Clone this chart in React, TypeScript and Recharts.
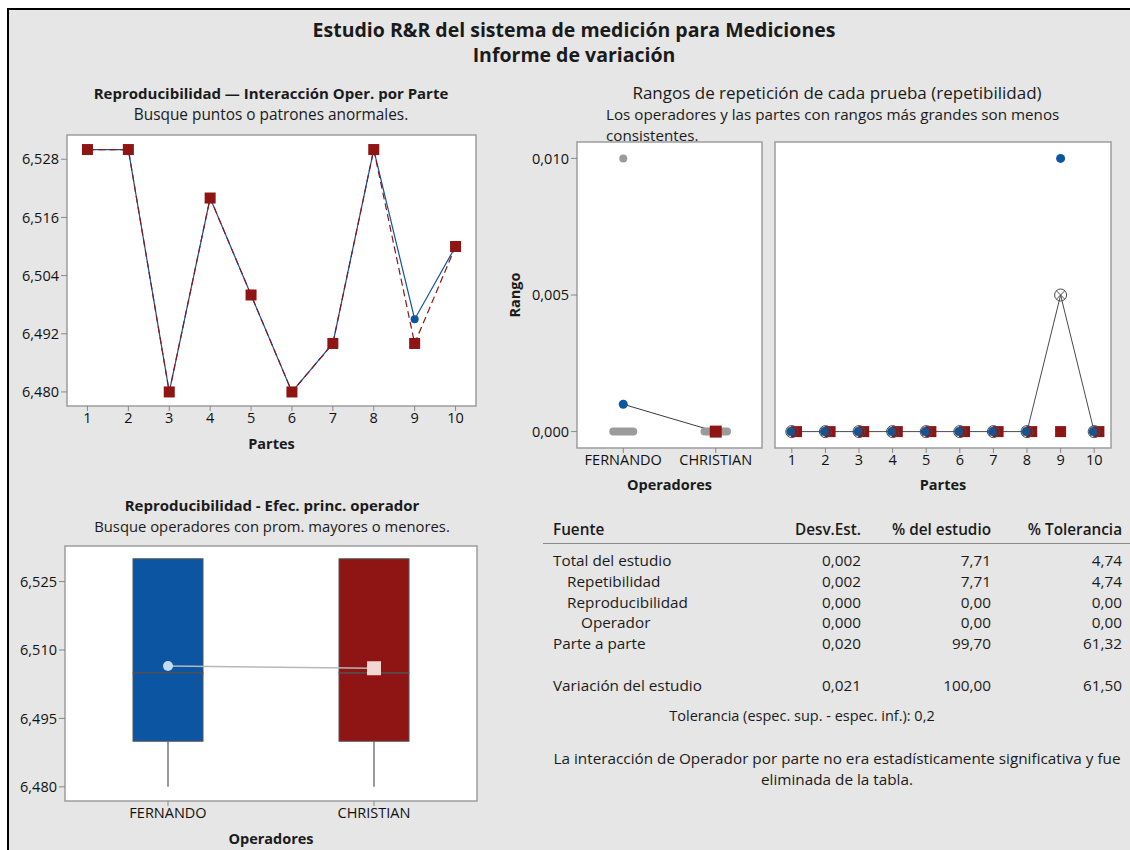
import React from "react";
import {
  Bar,
  CartesianGrid,
  ComposedChart,
  Line,
  ReferenceArea,
  Scatter,
  XAxis,
  YAxis,
} from "recharts";

// Minitab-style "Gage R&R" variation report, rebuilt with Recharts panels
// plus a plain HTML table for the variance components.

const FONT = '"Open Sans", "Noto Sans", sans-serif';
const BLUE = "#0b55a3";
const RED = "#8f1414";
const BG = "#e6e6e6";
const FRAME = "#9d9d9d";
const INK = "#1a1a1a";

// --- Interaction plot (operator average per part)
const parts = [1, 2, 3, 4, 5, 6, 7, 8, 9, 10];
const fernandoAvg = [6.53, 6.53, 6.48, 6.52, 6.5, 6.48, 6.49, 6.53, 6.495, 6.51];
const christianAvg = [6.53, 6.53, 6.48, 6.52, 6.5, 6.48, 6.49, 6.53, 6.49, 6.51];
const interactionTicks = [6.48, 6.492, 6.504, 6.516, 6.528];
const interactionDomain = [6.4771, 6.533];

// --- Repeatability ranges
const operators = ["FERNANDO", "CHRISTIAN"];
const fernandoRanges = [0, 0, 0, 0, 0, 0, 0, 0, 0.01, 0];
const christianRanges = [0, 0, 0, 0, 0, 0, 0, 0, 0, 0];
const operatorMeanRange = [0.001, 0];
const rangeTicks = [0, 0.005, 0.01];
const rangeDomain = [-0.0006, 0.0106];

// --- Operator main effect (box plot)
const boxMin = [6.48, 6.48];
const boxQ1 = [6.49, 6.49];
const boxMedian = [6.505, 6.505];
const boxQ3 = [6.53, 6.53];
const boxMax = [6.53, 6.53];
const boxMean = [6.5065, 6.506];
const boxTicks = [6.48, 6.495, 6.51, 6.525];
const boxDomain = [6.4769, 6.5328];
const boxFills = [BLUE, RED];
const meanFills = ["#c3dcf1", "#f3d8d2"];

// --- Variance components table
const sources = [
  "Total del estudio",
  "Repetibilidad",
  "Reproducibilidad",
  "Operador",
  "Parte a parte",
  "Variación del estudio",
];
const sourceIndent = [0, 1, 1, 2, 0, 0];
const stdDev = [0.002, 0.002, 0.0, 0.0, 0.02, 0.021];
const pctStudy = [7.71, 7.71, 0.0, 0.0, 99.7, 100.0];
const pctTolerance = [4.74, 4.74, 0.0, 0.0, 61.32, 61.5];

const fmt = (v: number, d: number) => v.toFixed(d).replace(".", ",");

// spread points sharing the same value side by side (Minitab's dodge)
function dodge(values: number[], step: number) {
  return values.map((v, i) => {
    const same = values.filter((w) => w === v).length;
    const k = values.slice(0, i).filter((w) => w === v).length;
    return (k - (same - 1) / 2) * step;
  });
}

const tickStyle = { fontSize: 14.5, fill: "#111" };
const axisTitle = { fontSize: 14.5, fill: INK, fontWeight: 700 };

function SquareDot({ cx, cy, size, fill }: any) {
  if (cx == null || cy == null) return null;
  return <rect x={cx - size / 2} y={cy - size / 2} width={size} height={size} fill={fill} />;
}

function CrossedCircle({ cx, cy }: any) {
  if (cx == null || cy == null) return null;
  const r = 6;
  const d = r * 0.7;
  return (
    <g stroke="#4a4a4a" strokeWidth={1} fill="none">
      <circle cx={cx} cy={cy} r={r} />
      <line x1={cx - d} y1={cy - d} x2={cx + d} y2={cy + d} />
      <line x1={cx - d} y1={cy + d} x2={cx + d} y2={cy - d} />
    </g>
  );
}

function InteractionChart() {
  const data = parts.map((p, i) => ({
    part: p,
    fernando: fernandoAvg[i],
    christian: christianAvg[i],
  }));
  return (
    <ComposedChart width={490} height={340} data={data} margin={{ top: 15, right: 14, bottom: 0, left: 0 }}>
      <CartesianGrid horizontal={false} vertical={false} fill="#fff" />
      <XAxis
        dataKey="part"
        type="number"
        domain={[0.5, 10.5]}
        ticks={parts}
        height={54}
        tick={tickStyle}
        tickLine={{ stroke: "#888" }}
        axisLine={false}
        tickSize={5}
        label={{ value: "Partes", position: "insideBottom", offset: 11, style: axisTitle }}
      />
      <YAxis
        type="number"
        domain={interactionDomain}
        allowDataOverflow
        ticks={interactionTicks}
        width={67}
        tick={tickStyle}
        tickLine={{ stroke: "#888" }}
        axisLine={false}
        tickFormatter={(v) => fmt(v, 3)}
      />
      <ReferenceArea
        x1={0.5}
        x2={10.5}
        y1={interactionDomain[0]}
        y2={interactionDomain[1]}
        fill="none"
        stroke={FRAME}
        strokeWidth={1.5}
        ifOverflow="visible"
      />
      <Line
        dataKey="fernando"
        stroke={BLUE}
        strokeWidth={1.2}
        isAnimationActive={false}
        dot={(p: any) => <circle key={p.index} cx={p.cx} cy={p.cy} r={4} fill={BLUE} />}
      />
      <Line
        dataKey="christian"
        stroke={RED}
        strokeWidth={1.2}
        strokeDasharray="7 4"
        isAnimationActive={false}
        dot={(p: any) => <SquareDot key={p.index} cx={p.cx} cy={p.cy} size={11} fill={RED} />}
      />
    </ComposedChart>
  );
}

function OperatorRangeChart() {
  const grayPoints = [fernandoRanges, christianRanges].flatMap((ranges, oi) => {
    const offsets = dodge(ranges, 0.027);
    return ranges.map((v, i) => ({ x: oi + 1 + offsets[i], y: v }));
  });
  const meanLine = operatorMeanRange.map((v, i) => ({ x: i + 1, y: v }));
  return (
    <ComposedChart width={290} height={370} margin={{ top: 12, right: 8, bottom: 0, left: 0 }}>
      <CartesianGrid horizontal={false} vertical={false} fill="#fff" />
      <XAxis
        dataKey="x"
        type="number"
        domain={[0.5, 2.5]}
        ticks={[1, 2]}
        tickFormatter={(v) => operators[v - 1]}
        height={52}
        tick={tickStyle}
        tickLine={{ stroke: "#888" }}
        axisLine={false}
        tickSize={5}
        label={{ value: "Operadores", position: "insideBottom", offset: 10, style: axisTitle }}
      />
      <YAxis
        type="number"
        domain={rangeDomain}
        allowDataOverflow
        ticks={rangeTicks}
        width={97}
        tick={tickStyle}
        tickLine={{ stroke: "#888" }}
        axisLine={false}
        tickFormatter={(v) => fmt(v, 3)}
        label={{
          value: "Rango",
          angle: -90,
          position: "insideLeft",
          offset: 35,
          style: { ...axisTitle, textAnchor: "middle" },
        }}
      />
      <ReferenceArea
        x1={0.5}
        x2={2.5}
        y1={rangeDomain[0]}
        y2={rangeDomain[1]}
        fill="none"
        stroke={FRAME}
        strokeWidth={1.5}
        ifOverflow="visible"
      />
      <Scatter
        data={grayPoints}
        dataKey="y"
        isAnimationActive={false}
        shape={(p: any) => <circle cx={p.cx} cy={p.cy} r={4} fill="#9b9b9b" />}
      />
      <Line
        data={meanLine}
        dataKey="y"
        stroke="#3a3a3a"
        strokeWidth={1}
        isAnimationActive={false}
        dot={(p: any) =>
          p.index === 0 ? (
            <circle key={p.index} cx={p.cx} cy={p.cy} r={4.5} fill={BLUE} />
          ) : (
            <SquareDot key={p.index} cx={p.cx} cy={p.cy} size={12} fill={RED} />
          )
        }
      />
    </ComposedChart>
  );
}

function PartRangeChart() {
  const blueDots = parts.map((p, i) => ({
    x: fernandoRanges[i] === christianRanges[i] ? p - 0.03 : p,
    y: fernandoRanges[i],
  }));
  const redDots = parts.map((p, i) => ({
    x: fernandoRanges[i] === christianRanges[i] ? p + 0.14 : p,
    y: christianRanges[i],
  }));
  const meanLine = parts.map((p, i) => ({ x: p, y: (fernandoRanges[i] + christianRanges[i]) / 2 }));
  return (
    <ComposedChart width={360} height={370} margin={{ top: 12, right: 19, bottom: 0, left: 5 }}>
      <CartesianGrid horizontal={false} vertical={false} fill="#fff" />
      <XAxis
        dataKey="x"
        type="number"
        domain={[0.5, 10.5]}
        ticks={parts}
        height={52}
        tick={tickStyle}
        tickLine={{ stroke: "#888" }}
        axisLine={false}
        tickSize={5}
        label={{ value: "Partes", position: "insideBottom", offset: 10, style: axisTitle }}
      />
      <YAxis type="number" domain={rangeDomain} allowDataOverflow hide />
      <ReferenceArea
        x1={0.5}
        x2={10.5}
        y1={rangeDomain[0]}
        y2={rangeDomain[1]}
        fill="none"
        stroke={FRAME}
        strokeWidth={1.5}
        ifOverflow="visible"
      />
      <Scatter
        data={redDots}
        dataKey="y"
        isAnimationActive={false}
        shape={(p: any) => <SquareDot cx={p.cx} cy={p.cy} size={11} fill={RED} />}
      />
      <Scatter
        data={blueDots}
        dataKey="y"
        isAnimationActive={false}
        shape={(p: any) => <circle cx={p.cx} cy={p.cy} r={4.5} fill={BLUE} />}
      />
      <Line
        data={meanLine}
        dataKey="y"
        stroke="#4a4a4a"
        strokeWidth={1}
        isAnimationActive={false}
        dot={(p: any) => <CrossedCircle key={p.index} cx={p.cx} cy={p.cy} />}
      />
    </ComposedChart>
  );
}

function OperatorBoxChart() {
  const data = operators.map((name, i) => ({
    name,
    base: boxMin[i],
    lowWhisker: boxQ1[i] - boxMin[i],
    lowBox: boxMedian[i] - boxQ1[i],
    highBox: boxQ3[i] - boxMedian[i],
    highWhisker: boxMax[i] - boxQ3[i],
    mean: boxMean[i],
  }));
  const whisker = (p: any) => {
    if (!p.height) return <g />;
    const cx = p.x + p.width / 2;
    return <line x1={cx} x2={cx} y1={p.y} y2={p.y + p.height} stroke="#7a7a7a" strokeWidth={1.5} />;
  };
  return (
    <ComposedChart width={490} height={320} data={data} margin={{ top: 16, right: 13, bottom: 0, left: 0 }}>
      <CartesianGrid horizontal={false} vertical={false} fill="#fff" />
      <XAxis
        dataKey="name"
        height={49}
        tick={tickStyle}
        tickLine={{ stroke: "#888" }}
        axisLine={false}
        tickSize={5}
        label={{ value: "Operadores", position: "insideBottom", offset: 6, style: axisTitle }}
      />
      <YAxis
        type="number"
        domain={boxDomain}
        allowDataOverflow
        ticks={boxTicks}
        width={65}
        tick={tickStyle}
        tickLine={{ stroke: "#888" }}
        axisLine={false}
        tickFormatter={(v) => fmt(v, 3)}
      />
      <ReferenceArea
        y1={boxDomain[0]}
        y2={boxDomain[1]}
        fill="none"
        stroke={FRAME}
        strokeWidth={1.5}
        ifOverflow="visible"
      />
      <Bar dataKey="base" stackId="box" barSize={70} fill="transparent" isAnimationActive={false} shape={() => <g />} />
      <Bar dataKey="lowWhisker" stackId="box" barSize={70} isAnimationActive={false} shape={whisker} />
      <Bar
        dataKey="lowBox"
        stackId="box"
        barSize={70}
        isAnimationActive={false}
        shape={(p: any) => (
          <g>
            <rect x={p.x} y={p.y} width={p.width} height={p.height} fill={boxFills[p.index]} stroke="#555" strokeWidth={1} />
            <line x1={p.x} x2={p.x + p.width} y1={p.y} y2={p.y} stroke="#4a4a4a" strokeWidth={1.5} />
          </g>
        )}
      />
      <Bar
        dataKey="highBox"
        stackId="box"
        barSize={70}
        isAnimationActive={false}
        shape={(p: any) => (
          <rect x={p.x} y={p.y} width={p.width} height={p.height} fill={boxFills[p.index]} stroke="#555" strokeWidth={1} />
        )}
      />
      <Bar dataKey="highWhisker" stackId="box" barSize={70} isAnimationActive={false} shape={whisker} />
      <Line
        dataKey="mean"
        stroke="#b8b8b8"
        strokeWidth={1.5}
        isAnimationActive={false}
        dot={(p: any) =>
          p.index === 0 ? (
            <circle key={p.index} cx={p.cx} cy={p.cy} r={5} fill={meanFills[0]} />
          ) : (
            <SquareDot key={p.index} cx={p.cx} cy={p.cy} size={14} fill={meanFills[1]} />
          )
        }
      />
    </ComposedChart>
  );
}

function VarianceTable() {
  const cell: React.CSSProperties = { position: "absolute", whiteSpace: "nowrap", lineHeight: "20px" };
  const rowTop = (i: number) => (i < 5 ? 550 + i * 20.8 : 675);
  return (
    <div style={{ fontSize: 15.3, color: INK }}>
      <div style={{ ...cell, left: 553, top: 519, fontWeight: 600 }}>Fuente</div>
      <div style={{ ...cell, right: 1130 - 861, top: 519, fontWeight: 600 }}>Desv.Est.</div>
      <div style={{ ...cell, right: 1130 - 991, top: 519, fontWeight: 600 }}>% del estudio</div>
      <div style={{ ...cell, right: 1130 - 1122, top: 519, fontWeight: 600 }}>% Tolerancia</div>
      <div style={{ position: "absolute", left: 543, top: 543, width: 587, height: 0, borderTop: "1.5px solid #8a8a8a" }} />
      {sources.map((s, i) => (
        <React.Fragment key={s}>
          <div style={{ ...cell, left: 553 + sourceIndent[i] * 14, top: rowTop(i) }}>{s}</div>
          <div style={{ ...cell, right: 1130 - 861, top: rowTop(i) }}>{fmt(stdDev[i], 3)}</div>
          <div style={{ ...cell, right: 1130 - 991, top: rowTop(i) }}>{fmt(pctStudy[i], 2)}</div>
          <div style={{ ...cell, right: 1130 - 1122, top: rowTop(i) }}>{fmt(pctTolerance[i], 2)}</div>
        </React.Fragment>
      ))}
      <div style={{ ...cell, left: 602, width: 400, textAlign: "center", top: 706, fontSize: 14.5 }}>
        Tolerancia (espec. sup. - espec. inf.): 0,2
      </div>
      <div style={{ ...cell, left: 537, width: 600, textAlign: "center", top: 748, lineHeight: "21px" }}>
        La interacción de Operador por parte no era estadísticamente significativa y fue
        <br />
        eliminada de la tabla.
      </div>
    </div>
  );
}

export default function App() {
  const abs: React.CSSProperties = { position: "absolute" };
  const mainTitle: React.CSSProperties = {
    ...abs,
    left: 274,
    width: 600,
    textAlign: "center",
    fontSize: 19.5,
    fontWeight: 700,
    lineHeight: "22px",
  };
  const rangeNote: React.CSSProperties = { ...abs, left: 606, width: 520, fontSize: 15.2, lineHeight: "19px" };
  return (
    <div style={{ position: "absolute", left: 0, top: 0, width: 1130, height: 850, background: "#fff", overflow: "hidden", fontFamily: FONT, color: INK }}>
      <div
        style={{
          ...abs,
          left: 7,
          top: 8,
          right: 0,
          bottom: 0,
          background: BG,
          borderLeft: "2.5px solid #000",
          borderTop: "2.5px solid #000",
        }}
      />
      <div style={{ ...mainTitle, top: 19 }}>Estudio R&amp;R del sistema de medición para Mediciones</div>
      <div style={{ ...mainTitle, top: 44 }}>Informe de variación</div>

      <div style={{ ...abs, left: 71, width: 400, top: 83, textAlign: "center", lineHeight: "21px" }}>
        <div style={{ fontSize: 15, fontWeight: 700 }}>Reproducibilidad — Interacción Oper. por Parte</div>
        <div style={{ fontSize: 15.4 }}>Busque puntos o patrones anormales.</div>
      </div>
      <div style={{ ...abs, left: 0, top: 120 }}>
        <InteractionChart />
      </div>

      <div style={{ ...abs, left: 537, width: 600, top: 83, textAlign: "center", fontSize: 17, lineHeight: "19px" }}>
        Rangos de repetición de cada prueba (repetibilidad)
      </div>
      <div style={{ ...rangeNote, top: 105 }}>Los operadores y las partes con rangos más grandes son menos</div>
      <div style={{ ...rangeNote, top: 126 }}>consistentes.</div>
      <div style={{ ...abs, left: 480, top: 130 }}>
        <OperatorRangeChart />
      </div>
      <div style={{ ...abs, left: 770, top: 130 }}>
        <PartRangeChart />
      </div>

      <div style={{ ...abs, left: 72, width: 400, top: 495, textAlign: "center", lineHeight: "21px" }}>
        <div style={{ fontSize: 15, fontWeight: 700 }}>Reproducibilidad - Efec. princ. operador</div>
        <div style={{ fontSize: 14.8 }}>Busque operadores con prom. mayores o menores.</div>
      </div>
      <div style={{ ...abs, left: 0, top: 530 }}>
        <OperatorBoxChart />
      </div>

      <VarianceTable />
    </div>
  );
}
